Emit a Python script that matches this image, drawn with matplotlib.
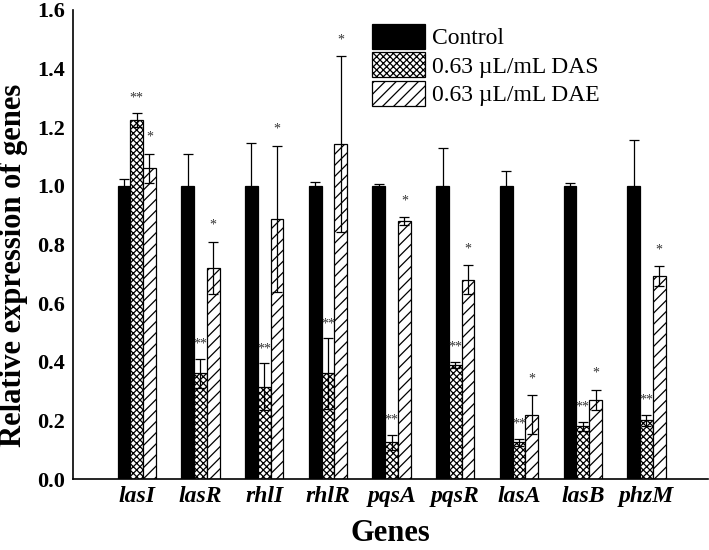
import numpy as np
import matplotlib
matplotlib.use("Agg")
import matplotlib.pyplot as plt

plt.rcParams['font.family'] = ['Liberation Serif', 'DejaVu Serif']
plt.rcParams['hatch.linewidth'] = 0.9

genes = ["lasI", "lasR", "rhlI", "rhlR", "pqsA", "pqsR", "lasA", "lasB", "phzM"]
series = ["Control", "0.63 \u00b5L/mL DAS", "0.63 \u00b5L/mL DAE"]

control = [1.0, 1.0, 1.0, 1.0, 1.0, 1.0, 1.0, 1.0, 1.0]
control_err = [0.024, 0.11, 0.147, 0.013, 0.005, 0.13, 0.05, 0.01, 0.157]
das = [1.225, 0.36, 0.315, 0.36, 0.125, 0.39, 0.125, 0.18, 0.20]
das_err = [0.025, 0.05, 0.08, 0.12, 0.025, 0.01, 0.012, 0.015, 0.02]
dae = [1.06, 0.72, 0.887, 1.143, 0.88, 0.68, 0.22, 0.27, 0.693]
dae_err = [0.05, 0.09, 0.25, 0.30, 0.012, 0.05, 0.065, 0.035, 0.034]

das_sig = ["**"] * 9
dae_sig = ["*"] * 9

x = np.arange(len(genes))
w = 0.2

fig = plt.figure(figsize=(7.09, 5.5), dpi=100)
ax = fig.add_axes([0.103, 0.129, 0.896, 0.853])

err_kw = dict(ecolor='black', elinewidth=0.9, capsize=3.5, capthick=0.9)

ax.bar(x - w, control, w, yerr=control_err, color='black', edgecolor='black',
       linewidth=0.9, label=series[0], error_kw=err_kw)
ax.bar(x, das, w, yerr=das_err, color='white', edgecolor='black', hatch='xxxxx',
       linewidth=0.9, label=series[1], error_kw=err_kw)
ax.bar(x + w, dae, w, yerr=dae_err, color='white', edgecolor='black', hatch='///',
       linewidth=0.9, label=series[2], error_kw=err_kw)

# significance marks above the caps
for i in range(len(genes)):
    ax.text(x[i], das[i] + das_err[i] + 0.05, das_sig[i], ha='center', va='center',
            fontsize=10, color='#333333')
    ax.text(x[i] + w, dae[i] + dae_err[i] + 0.055, dae_sig[i], ha='center', va='center',
            fontsize=10, color='#333333')

ax.set_xlim(-1.0, 8.97)
ax.set_ylim(0, 1.6)
ax.set_yticks(np.arange(0, 1.61, 0.2))
ax.set_yticklabels([f"{v:.1f}" for v in np.arange(0, 1.61, 0.2)],
                   fontsize=16, fontweight='bold')
ax.set_xticks(x)
ax.set_xticklabels(genes, fontsize=17, fontweight='bold', fontstyle='italic')
ax.tick_params(axis='y', length=0, pad=6)
ax.tick_params(axis='x', length=0, pad=5)

for s in ['top', 'right']:
    ax.spines[s].set_visible(False)
for s in ['left', 'bottom']:
    ax.spines[s].set_linewidth(1.2)

ax.set_ylabel("Relative expression of genes", fontsize=22, fontweight='bold')
ax.yaxis.set_label_coords(-0.071, 0.455)
ax.set_xlabel("Genes", fontsize=22, fontweight='bold', labelpad=9)

ax.legend(loc='upper left', bbox_to_anchor=(0.456, 0.99), frameon=False,
          fontsize=17, handlelength=2.25, handleheight=1.25, labelspacing=0.12,
          handletextpad=0.3, borderaxespad=0)

fig.savefig("out.png", dpi=100)
